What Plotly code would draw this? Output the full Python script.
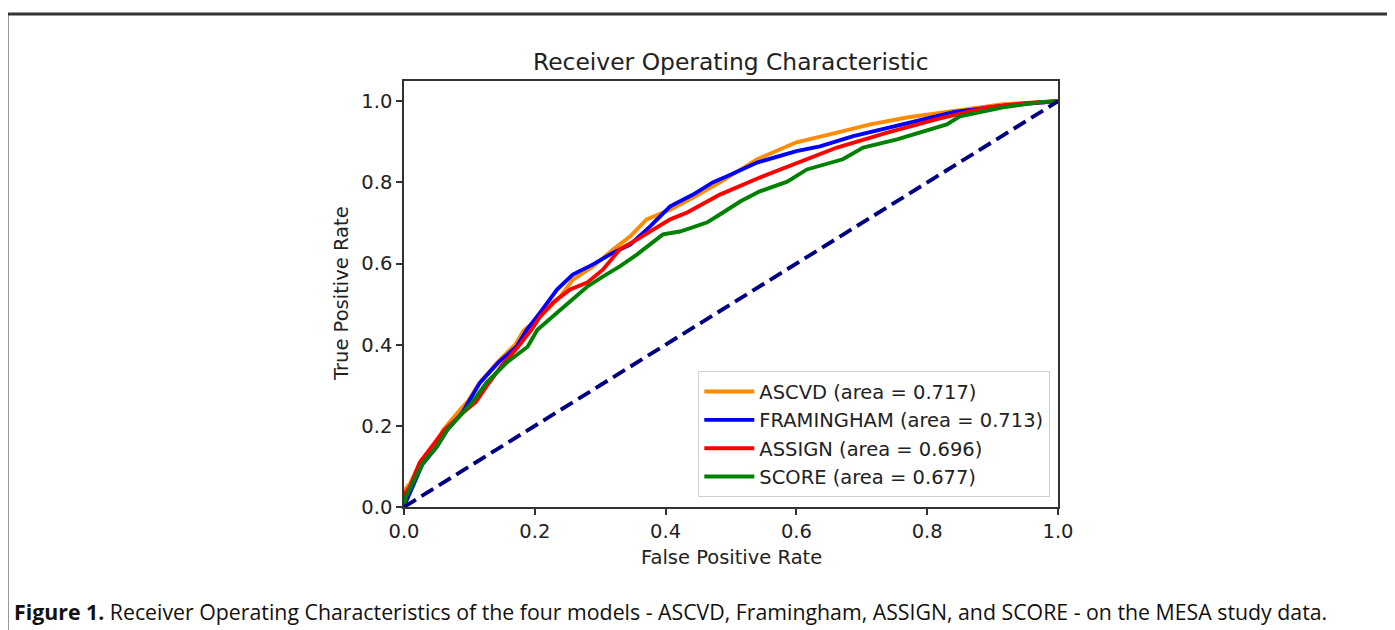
import plotly.graph_objects as go

# ---- data ----
ascvd_fpr = [0, 0.0, 0.01, 0.025, 0.045, 0.06, 0.083, 0.098, 0.115, 0.143, 0.17, 0.183, 0.208, 0.239, 0.258,
             0.289, 0.32, 0.346, 0.371, 0.407, 0.442, 0.483, 0.54, 0.60, 0.662, 0.713, 0.769, 0.84, 0.916, 1.0]
ascvd_tpr = [0, 0.04, 0.06, 0.11, 0.15, 0.19, 0.235, 0.262, 0.305, 0.357, 0.40, 0.435, 0.469, 0.519, 0.56,
             0.593, 0.635, 0.667, 0.709, 0.733, 0.763, 0.80, 0.857, 0.899, 0.923, 0.943, 0.96, 0.975, 0.993, 1.0]

fram_fpr = [0, 0.005, 0.028, 0.05, 0.066, 0.09, 0.116, 0.144, 0.172, 0.188, 0.208, 0.234, 0.258, 0.289, 0.32,
            0.346, 0.376, 0.407, 0.442, 0.472, 0.494, 0.54, 0.60, 0.636, 0.687, 0.763, 0.84, 0.92, 1.0]
fram_tpr = [0, 0.02, 0.105, 0.148, 0.19, 0.235, 0.306, 0.356, 0.395, 0.437, 0.479, 0.536, 0.573, 0.598, 0.627,
            0.647, 0.691, 0.741, 0.77, 0.80, 0.815, 0.849, 0.877, 0.889, 0.914, 0.943, 0.973, 0.99, 1.0]

assign_fpr = [0, 0.0, 0.009, 0.024, 0.043, 0.062, 0.09, 0.11, 0.125, 0.15, 0.172, 0.195, 0.208, 0.228, 0.254,
              0.28, 0.304, 0.33, 0.356, 0.381, 0.407, 0.433, 0.463, 0.483, 0.544, 0.61, 0.662, 0.739, 0.815,
              0.891, 0.95, 1.0]
assign_tpr = [0, 0.03, 0.05, 0.11, 0.15, 0.19, 0.232, 0.259, 0.295, 0.35, 0.39, 0.437, 0.469, 0.504, 0.536,
              0.553, 0.585, 0.635, 0.659, 0.684, 0.709, 0.726, 0.751, 0.77, 0.812, 0.852, 0.886, 0.923, 0.956,
              0.985, 0.995, 1.0]

score_fpr = [0, 0.003, 0.029, 0.05, 0.066, 0.09, 0.105, 0.126, 0.157, 0.189, 0.204, 0.234, 0.258, 0.28, 0.304,
             0.33, 0.356, 0.381, 0.396, 0.422, 0.442, 0.463, 0.483, 0.514, 0.544, 0.586, 0.616, 0.671, 0.702,
             0.754, 0.83, 0.85, 0.916, 0.972, 1.0]
score_tpr = [0, 0.025, 0.109, 0.148, 0.19, 0.232, 0.259, 0.306, 0.356, 0.395, 0.437, 0.479, 0.511, 0.543, 0.568,
             0.593, 0.622, 0.652, 0.672, 0.679, 0.689, 0.701, 0.721, 0.753, 0.778, 0.802, 0.832, 0.857, 0.886,
             0.906, 0.943, 0.963, 0.985, 0.998, 1.0]

chance_x = [0, 1]
chance_y = [0, 1]

series_names = ["ASCVD (area = 0.717)", "FRAMINGHAM (area = 0.713)",
                "ASSIGN (area = 0.696)", "SCORE (area = 0.677)"]
series_colors = ["#ff8c00", "#0000ff", "#ff0000", "#008000"]
series_data = [(ascvd_fpr, ascvd_tpr), (fram_fpr, fram_tpr),
               (assign_fpr, assign_tpr), (score_fpr, score_tpr)]

tick_vals = [0.0, 0.2, 0.4, 0.6, 0.8, 1.0]
tick_text = ["0.0", "0.2", "0.4", "0.6", "0.8", "1.0"]

title_text = "Receiver Operating Characteristic"
xlabel = "False Positive Rate"
ylabel = "True Positive Rate"
caption = ("<b>Figure 1.</b> Receiver Operating Characteristics of the four models - ASCVD, Framingham, "
           "ASSIGN, and SCORE - on the MESA study data.")

# ---- figure ----
OFF = 8  # the page body adds an 8px margin
W, H = 1395 - OFF, 630 - OFF
L, R, T, B = 404, 1058, 81, 507  # plot area in window pixels


def px_x(p):
    return (p - L) / (R - L)


def px_y(p):
    return (B - p) / (B - T)


FONT = "DejaVu Sans"
TXT = "#222222"

fig = go.Figure()
for (fx, ty), name, col in zip(series_data, series_names, series_colors):
    fig.add_trace(go.Scatter(x=fx, y=ty, mode="lines", name=name,
                             line=dict(color=col, width=3.9)))
fig.add_trace(go.Scatter(x=chance_x, y=chance_y, mode="lines", showlegend=False,
                         line=dict(color="#000080", width=3.9, dash="14px,6.5px")))

axis_common = dict(
    showgrid=False, zeroline=False, showline=True, linecolor="#333333", linewidth=1.6,
    mirror=True, ticks="outside", ticklen=6, tickwidth=1.6, tickcolor="#333333",
    tickvals=tick_vals, ticktext=tick_text,
    tickfont=dict(family=FONT, size=19.5, color=TXT),
)
fig.update_xaxes(range=[0, 1], **axis_common)
fig.update_yaxes(range=[0, 1.05], **axis_common)

annotations = [
    dict(text=title_text, x=px_x(731), y=px_y(62), xref="paper", yref="paper",
         xanchor="center", yanchor="middle", showarrow=False,
         font=dict(family=FONT, size=23.4, color=TXT)),
    dict(text=xlabel, x=px_x(731), y=px_y(557), xref="paper", yref="paper",
         xanchor="center", yanchor="middle", showarrow=False,
         font=dict(family=FONT, size=19.5, color=TXT)),
    dict(text=ylabel, x=px_x(341), y=px_y(294), xref="paper", yref="paper",
         xanchor="center", yanchor="middle", showarrow=False, textangle=-90,
         font=dict(family=FONT, size=19.5, color=TXT)),
    dict(text=caption, x=px_x(12), y=px_y(611), xref="paper", yref="paper",
         xanchor="left", yanchor="middle", showarrow=False,
         font=dict(family="Open Sans", size=21.3, color="#111111")),
]

shapes = [
    dict(type="line", xref="paper", yref="paper", x0=px_x(6), x1=px_x(1420), y0=px_y(14), y1=px_y(14),
         line=dict(color="#333333", width=3)),
    dict(type="line", xref="paper", yref="paper", x0=px_x(7), x1=px_x(7), y0=px_y(13), y1=px_y(650),
         line=dict(color="#333333", width=3)),
]

fig.update_layout(
    width=W, height=H, autosize=False,
    margin=dict(l=L - OFF, r=(W + OFF) - R, t=T - OFF, b=(H + OFF) - B, pad=0),
    paper_bgcolor="white", plot_bgcolor="white",
    annotations=annotations, shapes=shapes,
    legend=dict(x=px_x(1050), y=px_y(497), xanchor="right", yanchor="bottom",
                bgcolor="white", bordercolor="#d0d0d0", borderwidth=1.3,
                font=dict(family=FONT, size=19.5, color=TXT),
                itemwidth=50, tracegroupgap=0),
)

fig.write_html("out.html")
